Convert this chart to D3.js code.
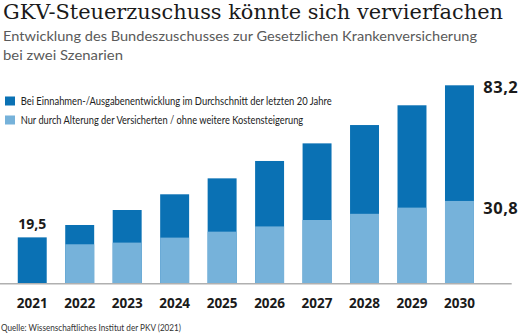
<!DOCTYPE html>
<html><head><meta charset="utf-8">
<script src="https://cdn.jsdelivr.net/npm/d3@7"></script>
<style>
body{margin:0;background:#fff;}
svg{display:block;}
</style></head>
<body>
<script>
const years = ["2021","2022","2023","2024","2025","2026","2027","2028","2029","2030"];
const trend = [19.3, 24.5, 30.8, 37.4, 44.1, 51.4, 58.8, 66.5, 74.8, 83.2];
const aging = [null, 16.4, 17.1, 19.2, 21.7, 23.9, 26.6, 29.2, 31.8, 34.6];
const seriesNames = ["Bei Einnahmen-/Ausgabenentwicklung im Durchschnitt der letzten 20 Jahre",
                     "Nur durch Alterung der Versicherten / ohne weitere Kostensteigerung"];
const labels = [{i:0, s:"trend", text:"19,5"},{i:9, s:"trend", text:"83,2"},{i:9, s:"aging", text:"30,8"}];

const W=523,H=336;
const dark="#0a71b4", light="#76b2da";
const svg=d3.select("body").append("svg").attr("width",W).attr("height",H);

const x=d3.scaleBand().domain(years).range([8.5,483.2]).paddingInner(0.39).paddingOuter(0.195);
const y=d3.scaleLinear().domain([0,83.2]).range([283.3,85.3]);

// title
svg.append("text").attr("x",3).attr("y",19).attr("font-family","DejaVu Serif").attr("font-size",20)
  .attr("fill","#1a1a1a").attr("textLength",500).attr("lengthAdjust","spacingAndGlyphs")
  .text("GKV-Steuerzuschuss könnte sich vervierfachen");
svg.append("text").attr("x",3).attr("y",41).attr("font-family","Lato").attr("font-weight",400).attr("font-size",14)
  .attr("fill","#5a5a5a").attr("textLength",474).attr("lengthAdjust","spacingAndGlyphs")
  .text("Entwicklung des Bundeszuschusses zur Gesetzlichen Krankenversicherung");
svg.append("text").attr("x",3).attr("y",60).attr("font-family","Lato").attr("font-weight",400).attr("font-size",14)
  .attr("fill","#5a5a5a").attr("textLength",120).attr("lengthAdjust","spacingAndGlyphs")
  .text("bei zwei Szenarien");

// legend
const leg=[{c:dark,t:seriesNames[0],y:101,w:311},{c:light,t:seriesNames[1],y:120,w:282.5}];
leg.forEach(l=>{
  svg.append("rect").attr("x",5).attr("y",l.y-4.5).attr("width",10).attr("height",9).attr("fill",l.c);
  svg.append("text").attr("x",20.7).attr("y",l.y+3.5).attr("font-family","Lato").attr("font-size",10.5)
   .attr("fill","#222").attr("textLength",l.w).attr("lengthAdjust","spacingAndGlyphs").text(l.t);
});

// bars
svg.append("g").selectAll("rect").data(years).join("rect")
  .attr("x",d=>x(d)).attr("width",x.bandwidth())
  .attr("y",(d,i)=>y(trend[i])).attr("height",(d,i)=>y(0)-y(trend[i])).attr("fill",dark);
svg.append("g").selectAll("rect").data(years.filter((d,i)=>aging[i]!=null)).join("rect")
  .attr("x",d=>x(d)).attr("width",x.bandwidth())
  .attr("y",d=>y(aging[years.indexOf(d)])).attr("height",d=>y(0)-y(aging[years.indexOf(d)])).attr("fill",light);

// baseline
svg.append("line").attr("x1",0).attr("x2",511.7).attr("y1",y(0)+0.5).attr("y2",y(0)+0.5)
  .attr("stroke","#b0b0b0").attr("stroke-width",1.5);

// x axis labels
const xa=svg.append("g").attr("transform",`translate(0,${y(0)})`).call(d3.axisBottom(x).tickSize(0).tickPadding(15));
xa.select(".domain").remove();
xa.selectAll("text").attr("font-family","Open Sans").attr("font-weight",700).attr("font-size",13.5).attr("fill","#1a1a1a");

// value labels
labels.forEach(l=>{
  const v = l.s==="trend"?trend[l.i]:aging[l.i];
  const t=svg.append("text").attr("font-family","Open Sans").attr("font-weight",700).attr("fill","#1a1a1a");
  if(l.i===0){
    t.attr("x",x(years[l.i])+x.bandwidth()/2).attr("y",y(v)-8).attr("text-anchor","middle").attr("font-size",14).text(l.text);
  } else {
    t.attr("x",483.3).attr("y",l.s==="trend"?y(v)+8:y(v)+13.3).attr("font-size",16.5).attr("letter-spacing",0.5).text(l.text);
  }
});

// source
svg.append("text").attr("x",1).attr("y",331).attr("font-family","Lato").attr("font-size",9)
  .attr("fill","#333").attr("textLength",180).attr("lengthAdjust","spacingAndGlyphs")
  .text("Quelle: Wissenschaftliches Institut der PKV (2021)");
</script>
</body></html>
